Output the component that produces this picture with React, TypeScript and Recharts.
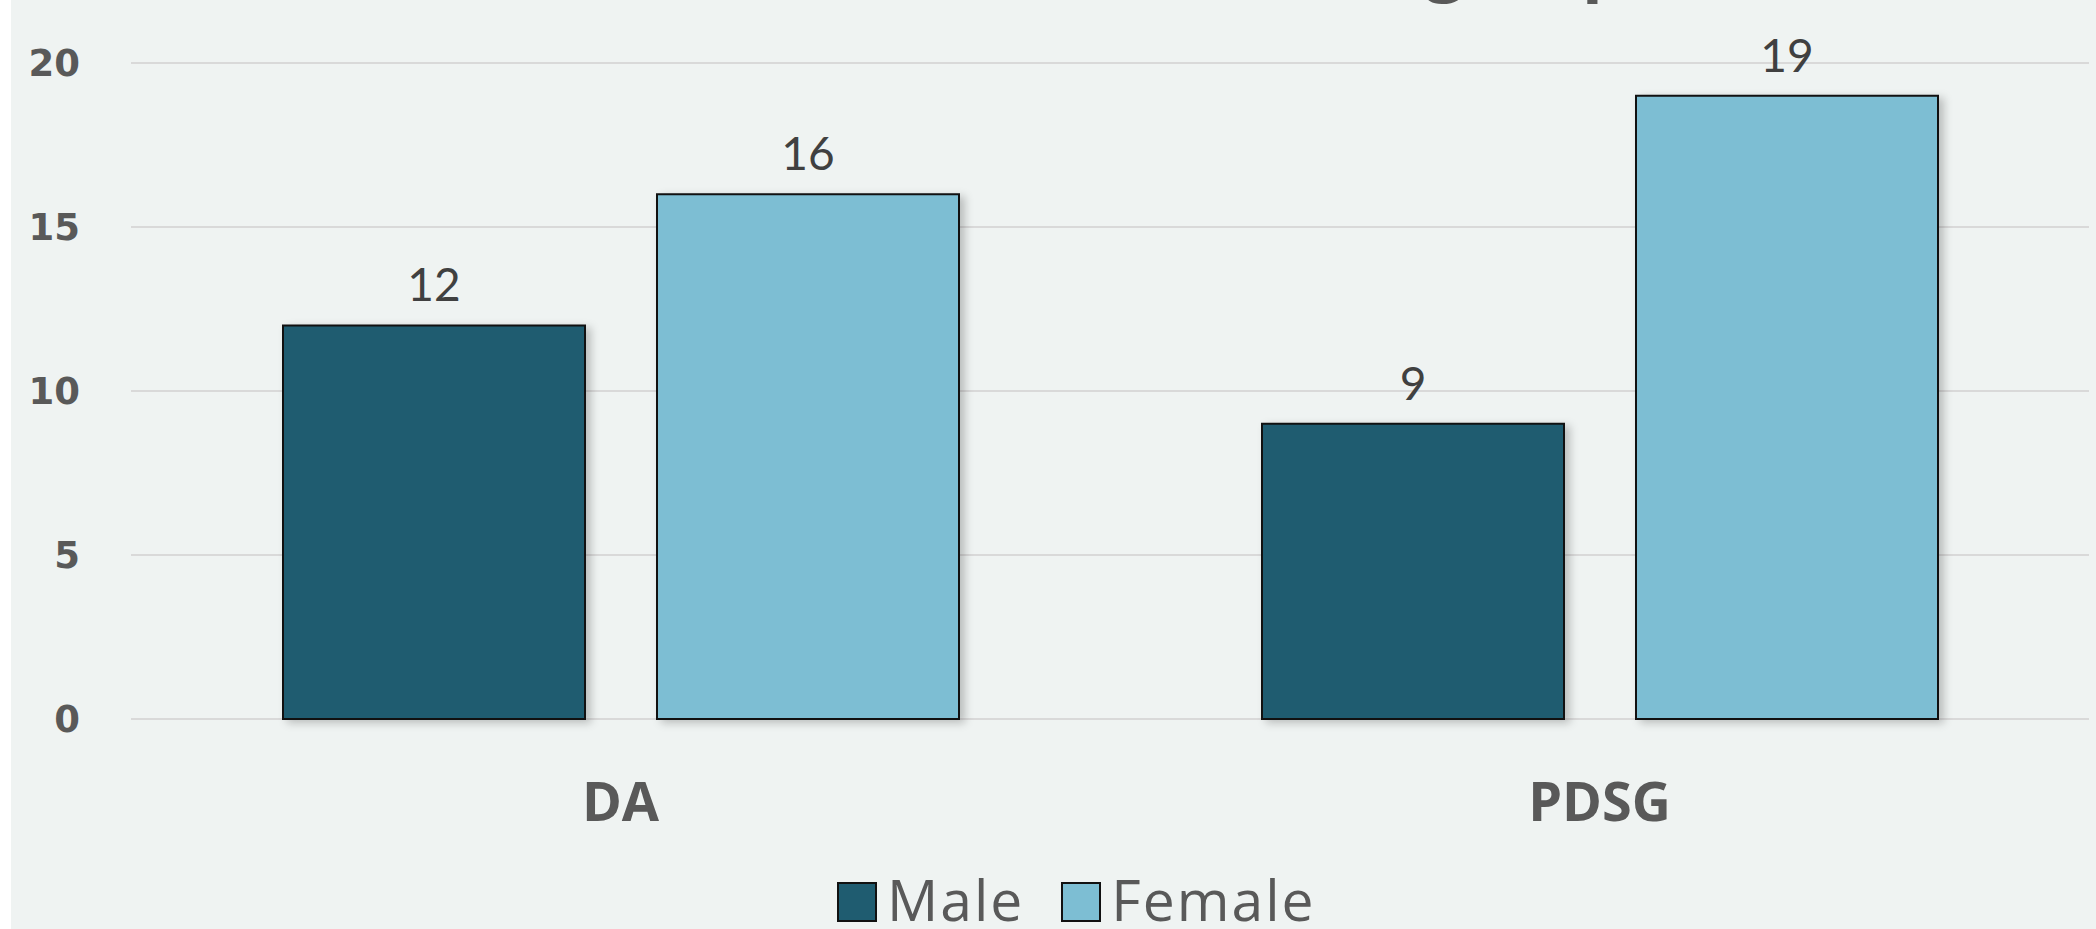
import { BarChart, Bar, XAxis, YAxis, CartesianGrid, LabelList, Rectangle } from 'recharts';

const GROUPS = ['DA', 'PDSG'];
const MALE = [12, 9];
const FEMALE = [16, 19];
const Y_TICKS = [0, 5, 10, 15, 20];
const SERIES = [
  { key: 'male', name: 'Male', color: '#1F5C70' },
  { key: 'female', name: 'Female', color: '#7DBED3' },
];
const TITLE = 'Gender distribution in each group';

const data = GROUPS.map((g, i) => ({ group: g, male: MALE[i], female: FEMALE[i] }));

const AXIS_GREY = '#595959';

const ShadowBar = (props: any) => (
  <Rectangle {...props} style={{ filter: 'drop-shadow(5px 3px 4px rgba(0,0,0,0.22))' }} />
);

export default function App() {
  return (
    <div style={{ position: 'absolute', left: 11, top: 0, width: 2085, height: 929, background: '#EFF3F2', overflow: 'hidden' }}>
      {/* title sits above the visible frame, only the descenders show */}
      <div style={{
        position: 'absolute', right: 471, top: -72, lineHeight: '68px', fontSize: 68,
        fontFamily: '"Open Sans", sans-serif', fontWeight: 700, color: '#595959', whiteSpace: 'nowrap',
      }}>{TITLE}</div>
      <BarChart width={2085} height={929} data={data} margin={{ top: 63, right: 7, bottom: 100, left: 0 }}
        barSize={302} barGap={72}>
        <CartesianGrid vertical={false} stroke='#D9D9D9' strokeWidth={2} />
        <XAxis dataKey='group' axisLine={false} tickLine={false} tickSize={0} tickMargin={64} height={110}
          tick={{ fill: AXIS_GREY, fontSize: 54, fontWeight: 700, fontFamily: '"Open Sans", sans-serif' }} />
        <YAxis domain={[0, 20]} ticks={Y_TICKS} axisLine={false} tickLine={false} tickSize={0} tickMargin={51} width={120}
          tick={{ fill: AXIS_GREY, fontSize: 37, fontWeight: 700, fontFamily: '"DejaVu Sans", sans-serif' }} />
        {SERIES.map(s => (
          <Bar key={s.key} dataKey={s.key} name={s.name} fill={s.color} stroke='#111' strokeWidth={2}
            isAnimationActive={false} shape={ShadowBar}>
            <LabelList dataKey={s.key} position='top' offset={24} fill='#404040' fontSize={46}
              fontFamily='Lato, sans-serif' />
          </Bar>
        ))}
      </BarChart>
      <div style={{ position: 'absolute', left: 826, top: 871, display: 'flex', alignItems: 'flex-start', gap: 37 }}>
        {SERIES.map(s => (
          <div key={s.key} style={{ display: 'flex', alignItems: 'flex-start', gap: 10 }}>
            <div style={{ width: 36, height: 36, marginTop: 11, background: s.color, border: '2px solid #111' }} />
            <span style={{ fontFamily: '"Open Sans", sans-serif', fontSize: 57, letterSpacing: 2, color: AXIS_GREY, lineHeight: '57px' }}>{s.name}</span>
          </div>
        ))}
      </div>
    </div>
  );
}
